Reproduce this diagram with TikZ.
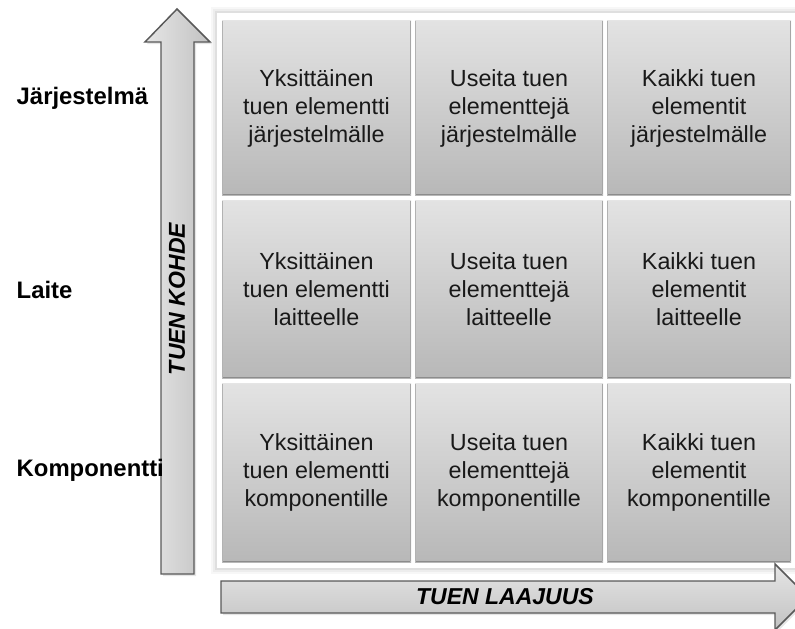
\documentclass[tikz,border=0pt]{standalone}
\usepackage{fontspec}
\setmainfont{Liberation Sans}
\begin{document}
\begin{tikzpicture}[x=0.75pt,y=-0.75pt,
  celltext/.style={align=center,text=black!90,font=\fontsize{17.5}{21}\selectfont},
  rowlabel/.style={anchor=west,font=\bfseries\fontsize{17.9}{21}\selectfont},
  axislabel/.style={font=\bfseries\itshape\fontsize{17.25}{21}\selectfont},
  arrowline/.style={draw=black!65,line width=1.1pt,line join=miter},
]
\useasboundingbox (0,0) rectangle (795,628);
\clip (0,0) rectangle (795,628);

% soft shadow round the white frame of the grid
\foreach \d/\o in {6/0.03,4/0.04,2/0.06}{
  \fill[black,opacity=\o] (217-\d,13-\d) rectangle (796+\d,568+\d);
}
\fill[white] (217,13) rectangle (796,568);

% the nine cells: gradient boxes with a bevelled edge
\foreach \xl/\xr [count=\i] in {222/411,415/603,607/791}{
  \foreach \yt/\yb [count=\j] in {20/195,200/378,383/562}{
    \shade[top color=black!11,bottom color=black!28]
      (\xl,\yt) rectangle (\xr,\yb);
    \draw[black!45,line width=1.2pt] (\xl+1,\yb-0.6) -- (\xr-1,\yb-0.6);
    \draw[black!35,line width=0.8pt] (\xr-0.4,\yt+1) -- (\xr-0.4,\yb-1);
    \draw[black!30,line width=0.8pt] (\xl+0.4,\yt+1) -- (\xl+0.4,\yb-1);
    \draw[white!90!black,line width=0.8pt] (\xl+1,\yt+0.4) -- (\xr-1,\yt+0.4);
  }
}

\node[celltext] (c11) at (316.5,108) {Yksittäinen\\tuen elementti\\järjestelmälle};
\node[celltext] (c21) at (509,108) {Useita tuen\\elementtejä\\järjestelmälle};
\node[celltext] (c31) at (699,108) {Kaikki tuen\\elementit\\järjestelmälle};
\node[celltext] (c12) at (316.5,289) {Yksittäinen\\tuen elementti\\laitteelle};
\node[celltext] (c22) at (509,289) {Useita tuen\\elementtejä\\laitteelle};
\node[celltext] (c32) at (699,289) {Kaikki tuen\\elementit\\laitteelle};
\node[celltext] (c13) at (316.5,472) {Yksittäinen\\tuen elementti\\komponentille};
\node[celltext] (c23) at (509,472) {Useita tuen\\elementtejä\\komponentille};
\node[celltext] (c33) at (699,472) {Kaikki tuen\\elementit\\komponentille};

% vertical axis arrow
\fill[black!10] (163,576) -- (196,576) -- (196,44) -- (212,44) -- (179,11) -- (147,44) -- (163,44) -- cycle;
\shade[arrowline,left color=black!10,right color=black!24]
  (161,574) -- (194,574) -- (194,42) -- (210,42) -- (177,9) -- (145,42) -- (161,42) -- cycle;
\node[axislabel,rotate=90] (kohde) at (177,299) {TUEN KOHDE};

% horizontal axis arrow
\fill[black!10] (223,615) -- (777,615) -- (777,632) -- (810,599) -- (777,566) -- (777,583) -- (223,583) -- cycle;
\shade[arrowline,top color=black!10,bottom color=black!24]
  (221,613) -- (775,613) -- (775,630) -- (808,597) -- (775,564) -- (775,581) -- (221,581) -- cycle;
\node[axislabel] (laajuus) at (505,597) {TUEN LAAJUUS};

% row labels
\node[rowlabel] (jarj) at (12,98) {Järjestelmä};
\node[rowlabel] (laite) at (12,290) {Laite};
\node[rowlabel] (komp) at (12,470) {Komponentti};
\end{tikzpicture}
\end{document}
